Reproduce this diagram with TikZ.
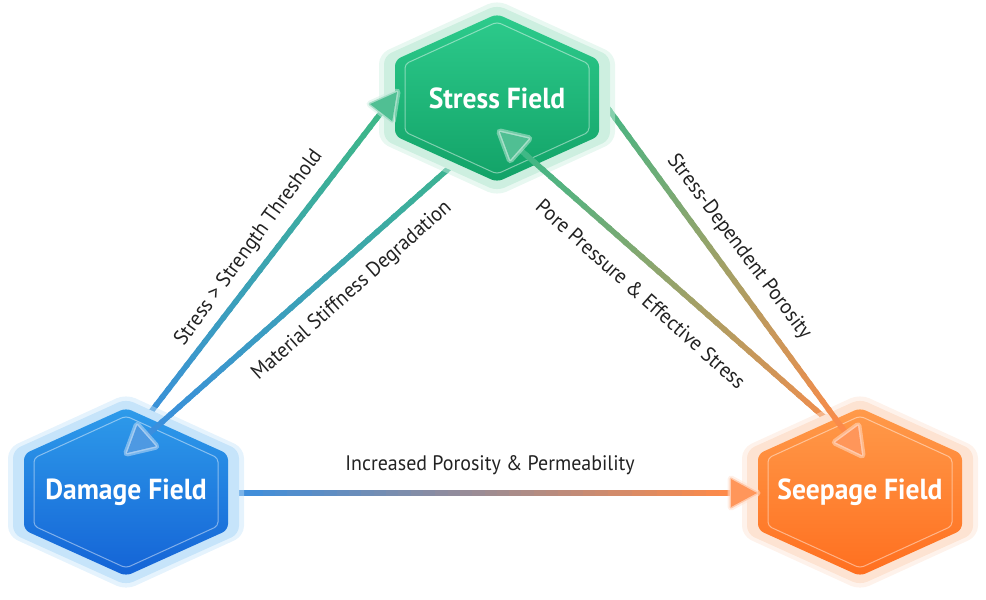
\documentclass[tikz,border=0pt]{standalone}
\usepackage{fontspec}
\setmainfont{PT Sans}[FakeStretch=0.95]
\usetikzlibrary{calc}
\definecolor{blueA}{HTML}{3A8EDF}
\definecolor{greenA}{HTML}{3DB887}
\definecolor{orangeA}{HTML}{FF8A48}
\definecolor{sglow}{HTML}{CDEFE0}\definecolor{stop}{HTML}{2DCB8C}\definecolor{sbot}{HTML}{12A267}
\definecolor{dglow}{HTML}{C6E4FA}\definecolor{dtop}{HTML}{2E9BEA}\definecolor{dbot}{HTML}{1463D6}
\definecolor{pglow}{HTML}{FDE3D2}\definecolor{ptop}{HTML}{FF9A4A}\definecolor{pbot}{HTML}{FF6F1F}
\definecolor{labtext}{HTML}{222222}
\newcommand\gshaft[6]{%
  \foreach \i in {#5,...,#6}{%
    \pgfmathsetmacro\ta{(\i-1)/40}%
    \pgfmathsetmacro\tb{\i/40+0.008}%
    \pgfmathtruncatemacro\p{100-(\i-0.5)*2.5}%
    \draw[shaftline, draw=#3!\p!#4] ($(#1)!\ta!(#2)$) -- ($(#1)!\tb!(#2)$);
  }}
\newcommand\ghead[3]{% base, tip, colour
  \draw[draw=#3!25!white, opacity=0.5, line width=7pt, line join=round] (#2) -- ($(#1)!14pt!90:(#2)$) -- ($(#1)!14pt!-90:(#2)$) -- cycle;
  \draw[draw=#3!45!white, line width=3pt, line join=round] (#2) -- ($(#1)!14pt!90:(#2)$) -- ($(#1)!14pt!-90:(#2)$) -- cycle;
  \fill[fill=#3!90!white] (#2) -- ($(#1)!14pt!90:(#2)$) -- ($(#1)!14pt!-90:(#2)$) -- cycle;}
\newcommand\hexfield[4]{%
  \begin{scope}[shift={(#1)}]
    \fill[#2, opacity=0.45, rounded corners=10pt] (0,-98) -- (118,-44) -- (118,44) -- (0,98) -- (-118,44) -- (-118,-44) -- cycle;
    \fill[#2, rounded corners=8pt] (0,-93) -- (113,-42) -- (113,42) -- (0,93) -- (-113,42) -- (-113,-42) -- cycle;
    \shade[top color=#3, bottom color=#4, rounded corners=6pt] (0,-84) -- (102,-38) -- (102,38) -- (0,84) -- (-102,38) -- (-102,-38) -- cycle;
    \draw[white, opacity=0.45, line width=1pt, rounded corners=4pt] (0,-76) -- (92,-34) -- (92,34) -- (0,76) -- (-92,34) -- (-92,-34) -- cycle;
  \end{scope}}
\tikzset{
  shaftline/.style={line width=5.5pt, line cap=butt},
  fieldtext/.style={text=white, font=\bfseries\fontsize{29}{34}\selectfont, inner sep=0pt},
  lab/.style={text=labtext, font=\fontsize{21}{25}\selectfont, inner sep=0pt},
}
\begin{document}
\begin{tikzpicture}[x=1pt,y=-1pt]
\useasboundingbox (0,0) rectangle (986,600);
% centres
\coordinate (sc) at (497,98);
\coordinate (dc) at (126,492);
\coordinate (pc) at (860,492);
% arrow ends
\coordinate (a1s) at ($(dc)+(11,-62)$);  \coordinate (a1e) at ($(sc)+(-100,-6)$);
\coordinate (a2s) at ($(sc)+(-7,34)$);   \coordinate (a2e) at ($(dc)+(1,-39)$);
\coordinate (a3s) at ($(sc)+(99,-6)$);   \coordinate (a3e) at ($(pc)+(2,-37)$);
\coordinate (a4s) at ($(pc)+(-10,-52)$); \coordinate (a4e) at ($(sc)+(3,34)$);
\coordinate (a5s) at ($(dc)+(112,1)$);   \coordinate (a5e) at ($(pc)+(-103,1)$);
\foreach \k in {1,...,5}{\coordinate (a\k b) at ($(a\k e)!26pt!(a\k s)$);}
% lower parts of shafts
\gshaft{a1s}{a1b}{blueA}{greenA}{1}{30}
\gshaft{a2s}{a2b}{greenA}{blueA}{1}{30}
\gshaft{a3s}{a3b}{greenA}{orangeA}{1}{30}
\gshaft{a4s}{a4b}{orangeA}{greenA}{1}{30}
\gshaft{a5s}{a5b}{blueA}{orangeA}{1}{30}
% hexagons
\hexfield{sc}{sglow}{stop}{sbot}
\hexfield{dc}{dglow}{dtop}{dbot}
\hexfield{pc}{pglow}{ptop}{pbot}
% upper parts of shafts and heads
\gshaft{a1s}{a1b}{blueA}{greenA}{31}{40}
\gshaft{a2s}{a2b}{greenA}{blueA}{31}{40}
\gshaft{a3s}{a3b}{greenA}{orangeA}{31}{40}
\gshaft{a4s}{a4b}{orangeA}{greenA}{31}{40}
\gshaft{a5s}{a5b}{blueA}{orangeA}{31}{40}
\ghead{a1b}{a1e}{greenA}
\ghead{a2b}{a2e}{blueA}
\ghead{a3b}{a3e}{orangeA}
\ghead{a4b}{a4e}{greenA}
\ghead{a5b}{a5e}{orangeA}
% field texts
\node[fieldtext] (stress) at (sc) {Stress Field};
\node[fieldtext] (damage) at (dc) {Damage Field};
\node[fieldtext] (seepage) at (pc) {Seepage Field};
% labels
\node[lab, rotate=54] (l1) at (249,248) {Stress > Strength Threshold};
\node[lab, rotate=41.6] (l2) at (352,291) {Material Stiffness Degradation};
\node[lab, rotate=-41.7] (l4) at (641,294) {Pore Pressure \& Effective Stress};
\node[lab, rotate=-53] (l3) at (739,247) {Stress-Dependent Porosity};
\node[lab] (l5) at (490,465) {Increased Porosity \& Permeability};
\end{tikzpicture}
\end{document}
